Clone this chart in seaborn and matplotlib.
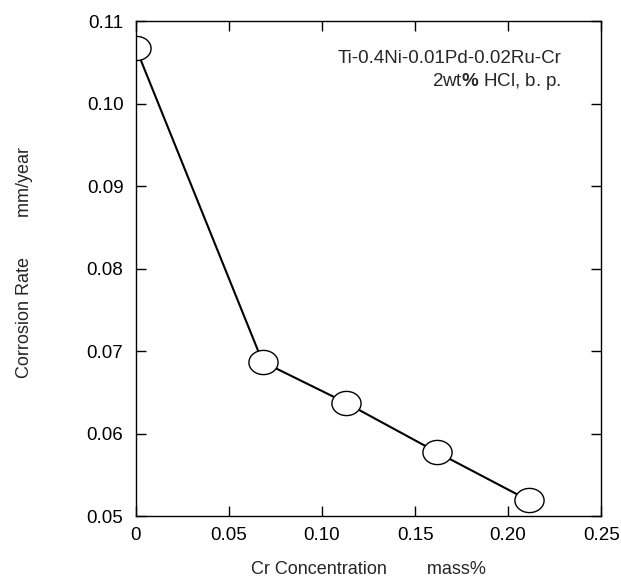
import matplotlib
matplotlib.use("Agg")
import matplotlib.pyplot as plt
import seaborn as sns
import pandas as pd
import numpy as np
from matplotlib.path import Path

# Data
cr_conc = [0.0, 0.068, 0.113, 0.162, 0.211]
corrosion_rate = [0.1067, 0.0687, 0.0637, 0.0577, 0.0519]
x_ticks = [0, 0.05, 0.10, 0.15, 0.20, 0.25]
x_ticklabels = ["0", "0.05", "0.10", "0.15", "0.20", "0.25"]
y_ticks = [0.05, 0.06, 0.07, 0.08, 0.09, 0.10, 0.11]
y_ticklabels = ["0.05", "0.06", "0.07", "0.08", "0.09", "0.10", "0.11"]

sns.set_style("ticks")
plt.rcParams["font.family"] = ["Liberation Sans", "DejaVu Sans"]
plt.rcParams["mathtext.fontset"] = "custom"
plt.rcParams["mathtext.rm"] = "Liberation Sans"
plt.rcParams["mathtext.bf"] = "Liberation Sans:bold"

df = pd.DataFrame({"x": cr_conc, "y": corrosion_rate})

fig = plt.figure(figsize=(6.21, 5.77), dpi=100)
ax = fig.add_axes([0.219, 0.1057, 0.749, 0.8579])

# ellipse marker (wider than tall)
t = np.linspace(0, 2 * np.pi, 60)
ell = Path(np.column_stack([np.cos(t), 0.83 * np.sin(t)]), closed=True)

sns.lineplot(data=df, x="x", y="y", ax=ax, color="black", linewidth=1.5,
             marker=ell, markersize=21, markerfacecolor="white",
             markeredgecolor="black", markeredgewidth=1.0)

ax.set_xlim(0, 0.25)
ax.set_ylim(0.05, 0.11)
ax.set_xticks(x_ticks)
ax.set_xticklabels(x_ticklabels)
ax.set_yticks(y_ticks)
ax.set_yticklabels(y_ticklabels)
ax.tick_params(direction="in", length=7, width=1, top=True, right=True,
               labelsize=13.5, colors="black")
ax.tick_params(axis="x", pad=8)
ax.tick_params(axis="y", pad=9)
for s in ax.spines.values():
    s.set_visible(True)
    s.set_color("black")
    s.set_linewidth(1.0)

ax.set_xlabel("Cr Concentration        mass%", fontsize=13, labelpad=12)
ax.set_ylabel("Corrosion Rate        mm/year", fontsize=13, labelpad=39)
ax.yaxis.label.set_y(0.512)

ax.text(0.914, 0.925, "Ti-0.4Ni-0.01Pd-0.02Ru-Cr", transform=ax.transAxes,
        ha="right", va="center", fontsize=13.5)
ax.text(0.914, 0.877, r"2wt$\mathbf{\%}$ HCl, b. p.", transform=ax.transAxes,
        ha="right", va="center", fontsize=13.5)

fig.savefig("out.png", dpi=100)
